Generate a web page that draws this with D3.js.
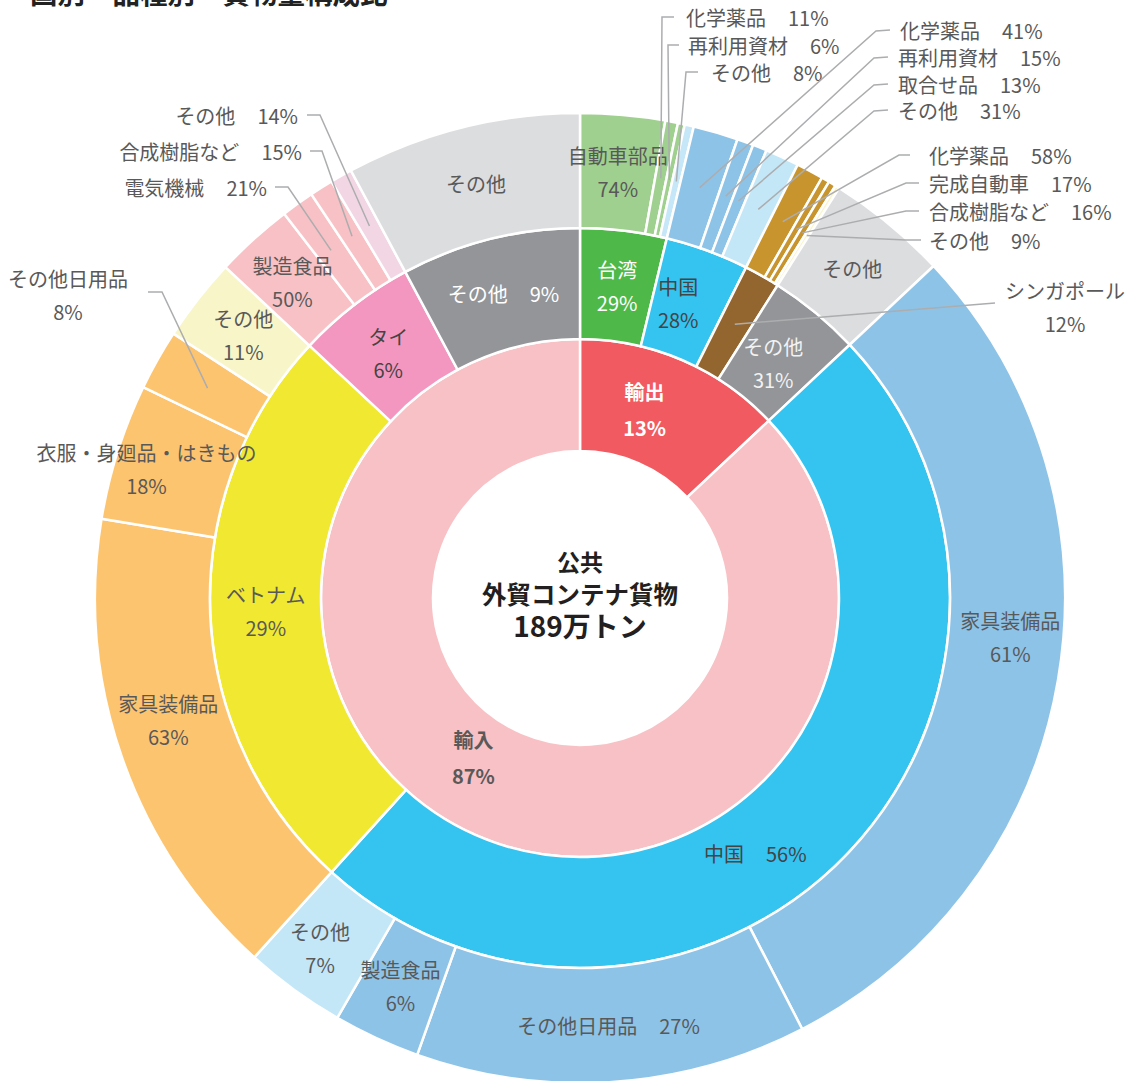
<!DOCTYPE html>
<html lang="ja">
<head>
<meta charset="utf-8">
<script src="https://cdn.jsdelivr.net/npm/d3@7"></script>
<style>
  body { margin: 0; background: #fff; }
  svg text { font-family: "Noto Sans CJK JP", "Noto Sans", sans-serif; }
</style>
</head>
<body>
<div id="chart"></div>
<script>
// Inner ring: export / import share
const flows = ['輸出', '輸入'];
const flowShare = [13, 87];

// Middle ring: countries
const exportCountries = ['台湾', '中国', 'シンガポール', 'その他'];
const exportShare = [29, 28, 12, 31];
const importCountries = ['中国', 'ベトナム', 'タイ', 'その他'];
const importShare = [56, 29, 6, 9];

// Outer ring: goods per country (export)
const taiwanGoods = ['自動車部品', '化学薬品', '再利用資材', 'その他'];
const taiwanShare = [74, 11, 6, 8];
const chinaExGoods = ['化学薬品', '再利用資材', '取合せ品', 'その他'];
const chinaExShare = [41, 15, 13, 31];
const singaporeGoods = ['化学薬品', '完成自動車', '合成樹脂など', 'その他'];
const singaporeShare = [58, 17, 16, 9];
const exOtherGoods = ['その他'];
const exOtherShare = [100];

// Outer ring: goods per country (import)
const chinaImGoods = ['家具装備品', 'その他日用品', '製造食品', 'その他'];
const chinaImShare = [61, 27, 6, 7];
const vietnamGoods = ['家具装備品', '衣服・身廻品・はきもの', 'その他日用品', 'その他'];
const vietnamShare = [63, 18, 8, 11];
const thaiGoods = ['製造食品', '電気機械', '合成樹脂など', 'その他'];
const thaiShare = [50, 21, 15, 14];
const imOtherGoods = ['その他'];
const imOtherShare = [100];

const centerLines = ['公共', '外貿コンテナ貨物', '189万トン'];
const title = '国別・品種別　貨物量構成比';

// Colours per path
const colors = {
    '輸出': '#f15a60', '輸入': '#f8c1c5',
    '輸出/台湾': '#4eb848', '輸出/中国': '#35c3f0', '輸出/シンガポール': '#936630', '輸出/その他': '#939598',
    '輸入/中国': '#35c3f0', '輸入/ベトナム': '#f0e831', '輸入/タイ': '#f397c0', '輸入/その他': '#939598'
};
const leafColors = {
    '輸出/台湾': ['#a0d08f', '#a0d08f', '#a0d08f', '#c6e7f8'],
    '輸出/中国': ['#8ec3e8', '#8ec3e8', '#8ec3e8', '#c4e7f8'],
    '輸出/シンガポール': ['#c8942e', '#c8942e', '#c8942e', '#fbf5cb'],
    '輸出/その他': ['#dcdddf'],
    '輸入/中国': ['#8ec3e8', '#8ec3e8', '#8ec3e8', '#c4e7f8'],
    '輸入/ベトナム': ['#fdc46f', '#fdc46f', '#fdc46f', '#f8f6c8'],
    '輸入/タイ': ['#f8c1c5', '#f8c1c5', '#f8c1c5', '#f2d6e4'],
    '輸入/その他': ['#dcdddf']
};

// Label placement tweaks (default: two lines at arc centroid)
const labelStyle = {
    '輸出': {fill: '#fff', bold: true, dx: -16, dy: -2, gap: 36},
    '輸入': {fill: '#595959', bold: true, dx: -26, dy: -27, gap: 36},
    '輸出/台湾': {fill: '#fff'},
    '輸出/中国': {fill: '#444', dx: -10},
    '輸出/シンガポール': {ext: {x: 1065, y: 306, anchor: 'middle', two: true, pts: [[995, 303]]}},
    '輸出/その他': {fill: '#f2f2f2', dx: -7, dy: 7},
    '輸入/中国': {fill: '#444', single: true, dx: -49, dy: 35},
    '輸入/タイ': {fill: '#444', dy: 4},
    '輸入/その他': {fill: '#fff', single: true},
    '輸出/台湾/化学薬品': {ext: {x: 686, y: 17, anchor: 'start', pts: [[662, 17], [674, 17]]}},
    '輸出/台湾/再利用資材': {ext: {x: 688, y: 45, anchor: 'start', pts: [[668, 45], [679, 45]]}},
    '輸出/台湾/その他': {ext: {x: 711, y: 72, anchor: 'start', pts: [[686, 72], [698, 72]]}},
    '輸出/中国/化学薬品': {ext: {x: 900, y: 30, anchor: 'start', pts: [[876, 31], [890, 30]]}},
    '輸出/中国/再利用資材': {ext: {x: 898, y: 57, anchor: 'start', pts: [[874, 58], [888, 57]]}},
    '輸出/中国/取合せ品': {ext: {x: 898, y: 84, anchor: 'start', pts: [[874, 85], [888, 84]]}},
    '輸出/中国/その他': {ext: {x: 898, y: 110, anchor: 'start', pts: [[874, 111], [888, 110]]}},
    '輸出/シンガポール/化学薬品': {ext: {x: 929, y: 155, anchor: 'start', pts: [[899, 155], [910, 155]]}},
    '輸出/シンガポール/完成自動車': {ext: {x: 929, y: 183, anchor: 'start', pts: [[906, 183], [919, 183]]}},
    '輸出/シンガポール/合成樹脂など': {ext: {x: 929, y: 211, anchor: 'start', pts: [[906, 211], [919, 211]]}},
    '輸出/シンガポール/その他': {ext: {x: 929, y: 240, anchor: 'start', pts: [[906, 240], [921, 240]]}},
    '輸出/その他/その他': {nameOnly: true},
    '輸入/中国/家具装備品': {dx: 9, dy: -34},
    '輸入/中国/その他日用品': {single: true},
    '輸入/中国/その他': {dx: -8, dy: 5},
    '輸入/ベトナム/家具装備品': {dx: -8, dy: -19},
    '輸入/ベトナム/衣服・身廻品・はきもの': {dx: -26},
    '輸入/ベトナム/その他日用品': {ext: {x: 68, y: 294, anchor: 'middle', two: true, pts: [[162, 292], [148, 292]]}},
    '輸入/タイ/電気機械': {ext: {x: 267, y: 187, anchor: 'end', pts: [[288, 187], [275, 187]]}},
    '輸入/タイ/合成樹脂など': {ext: {x: 302, y: 151, anchor: 'end', pts: [[322, 151], [310, 151]]}},
    '輸入/タイ/その他': {ext: {x: 298, y: 115, anchor: 'end', pts: [[320, 115], [307, 115]]}},
    '輸入/その他/その他': {nameOnly: true}
};

let width = 1128, height = 1081;
let cx = 580, cy = 598;
const radii = [147, 259, 370, 485];

// Build hierarchy
function countryNodes(names, shares, goods, total) {
    const sum = d3.sum(shares);
    return names.map((name, i) => {
        const [gNames, gShares] = goods[i];
        const gSum = d3.sum(gShares);
        return {
            name: name, pct: shares[i],
            children: gNames.map((g, j) => ({
                name: g, pct: gShares[j],
                value: total * shares[i] / sum * gShares[j] / gSum
            }))
        };
    });
}

const tree = {name: 'root', children: [
    {name: flows[0], pct: flowShare[0], children: countryNodes(exportCountries, exportShare,
        [[taiwanGoods, taiwanShare], [chinaExGoods, chinaExShare], [singaporeGoods, singaporeShare], [exOtherGoods, exOtherShare]], flowShare[0])},
    {name: flows[1], pct: flowShare[1], children: countryNodes(importCountries, importShare,
        [[chinaImGoods, chinaImShare], [vietnamGoods, vietnamShare], [thaiGoods, thaiShare], [imOtherGoods, imOtherShare]], flowShare[1])}
]};

const root = d3.hierarchy(tree).sum(d => d.value || 0);
d3.partition().size([2 * Math.PI, 3])(root);

const nodes = root.descendants().filter(d => d.depth > 0);
nodes.forEach(d => {
    d.key = d.ancestors().reverse().slice(1).map(a => a.data.name).join('/');
    if (d.depth < 3) d.color = colors[d.key];
    else d.color = leafColors[d.parent.key][d.parent.children.indexOf(d)];
});

const arc = d3.arc()
    .startAngle(d => d.x0)
    .endAngle(d => d.x1)
    .innerRadius(d => radii[d.depth - 1])
    .outerRadius(d => radii[d.depth]);

let svg = d3.select('#chart')
    .append('svg')
    .attr('width', width)
    .attr('height', height)
    .style('background', 'white');

// Title (partly cut off at the top)
svg.append('text')
    .attr('x', 30)
    .attr('y', 4)
    .attr('font-size', 27.5)
    .attr('font-weight', 'bold')
    .attr('fill', '#222')
    .text(title);

let g = svg.append('g').attr('transform', `translate(${cx},${cy})`);

// Arcs
g.selectAll('path.seg')
    .data(nodes)
    .enter()
    .append('path')
    .attr('class', 'seg')
    .attr('d', arc)
    .attr('fill', d => d.color)
    .attr('stroke', 'white')
    .attr('stroke-width', 2.5);

// Leader lines and external labels
const line = d3.line();
nodes.filter(d => labelStyle[d.key] && labelStyle[d.key].ext).forEach(d => {
    const ext = labelStyle[d.key].ext;
    const c = arc.centroid(d);
    const pts = [[c[0] + cx, c[1] + cy]].concat(ext.pts);
    svg.append('path')
        .attr('d', line(pts))
        .attr('fill', 'none')
        .attr('stroke', '#acadaf')
        .attr('stroke-width', 1.5);

    if (ext.two) {
        let t = svg.append('text')
            .attr('text-anchor', ext.anchor)
            .attr('font-size', 20)
            .attr('fill', '#595959');
        t.append('tspan').attr('x', ext.x).attr('y', ext.y - 16).attr('dominant-baseline', 'central').text(d.data.name);
        t.append('tspan').attr('x', ext.x).attr('y', ext.y + 17).attr('dominant-baseline', 'central').text(d.data.pct + '%');
    } else {
        let t = svg.append('text')
            .attr('x', ext.x)
            .attr('y', ext.y)
            .attr('text-anchor', ext.anchor)
            .attr('dominant-baseline', 'central')
            .attr('font-size', 20)
            .attr('fill', '#595959');
        t.append('tspan').text(d.data.name);
        t.append('tspan').attr('dx', 22).text(d.data.pct + '%');
    }
});

// Inside labels
nodes.filter(d => !(labelStyle[d.key] && labelStyle[d.key].ext)).forEach(d => {
    const s = labelStyle[d.key] || {};
    const c = arc.centroid(d);
    const x = c[0] + (s.dx || 0), y = c[1] + (s.dy || 0);
    let t = g.append('text')
        .attr('text-anchor', 'middle')
        .attr('font-size', 20)
        .attr('font-weight', s.bold ? 'bold' : 'normal')
        .attr('fill', s.fill || '#595959');
    if (s.nameOnly) {
        t.attr('x', x).attr('y', y).attr('dominant-baseline', 'central').text(d.data.name);
    } else if (s.single) {
        t.attr('x', x).attr('y', y).attr('dominant-baseline', 'central');
        t.append('tspan').text(d.data.name);
        t.append('tspan').attr('dx', 22).text(d.data.pct + '%');
    } else {
        const gap = s.gap || 33;
        t.append('tspan').attr('x', x).attr('y', y - gap / 2).attr('dominant-baseline', 'central').text(d.data.name);
        t.append('tspan').attr('x', x).attr('y', y + gap / 2).attr('dominant-baseline', 'central').text(d.data.pct + '%');
    }
});

// Centre text
g.selectAll('text.center')
    .data(centerLines)
    .enter()
    .append('text')
    .attr('class', 'center')
    .attr('x', 0)
    .attr('y', (d, i) => [-37, -5, 27][i])
    .attr('text-anchor', 'middle')
    .attr('dominant-baseline', 'central')
    .attr('font-size', (d, i) => [23, 24.5, 28][i])
    .attr('font-weight', 'bold')
    .attr('fill', '#231f20')
    .text(d => d);
</script>
</body>
</html>
